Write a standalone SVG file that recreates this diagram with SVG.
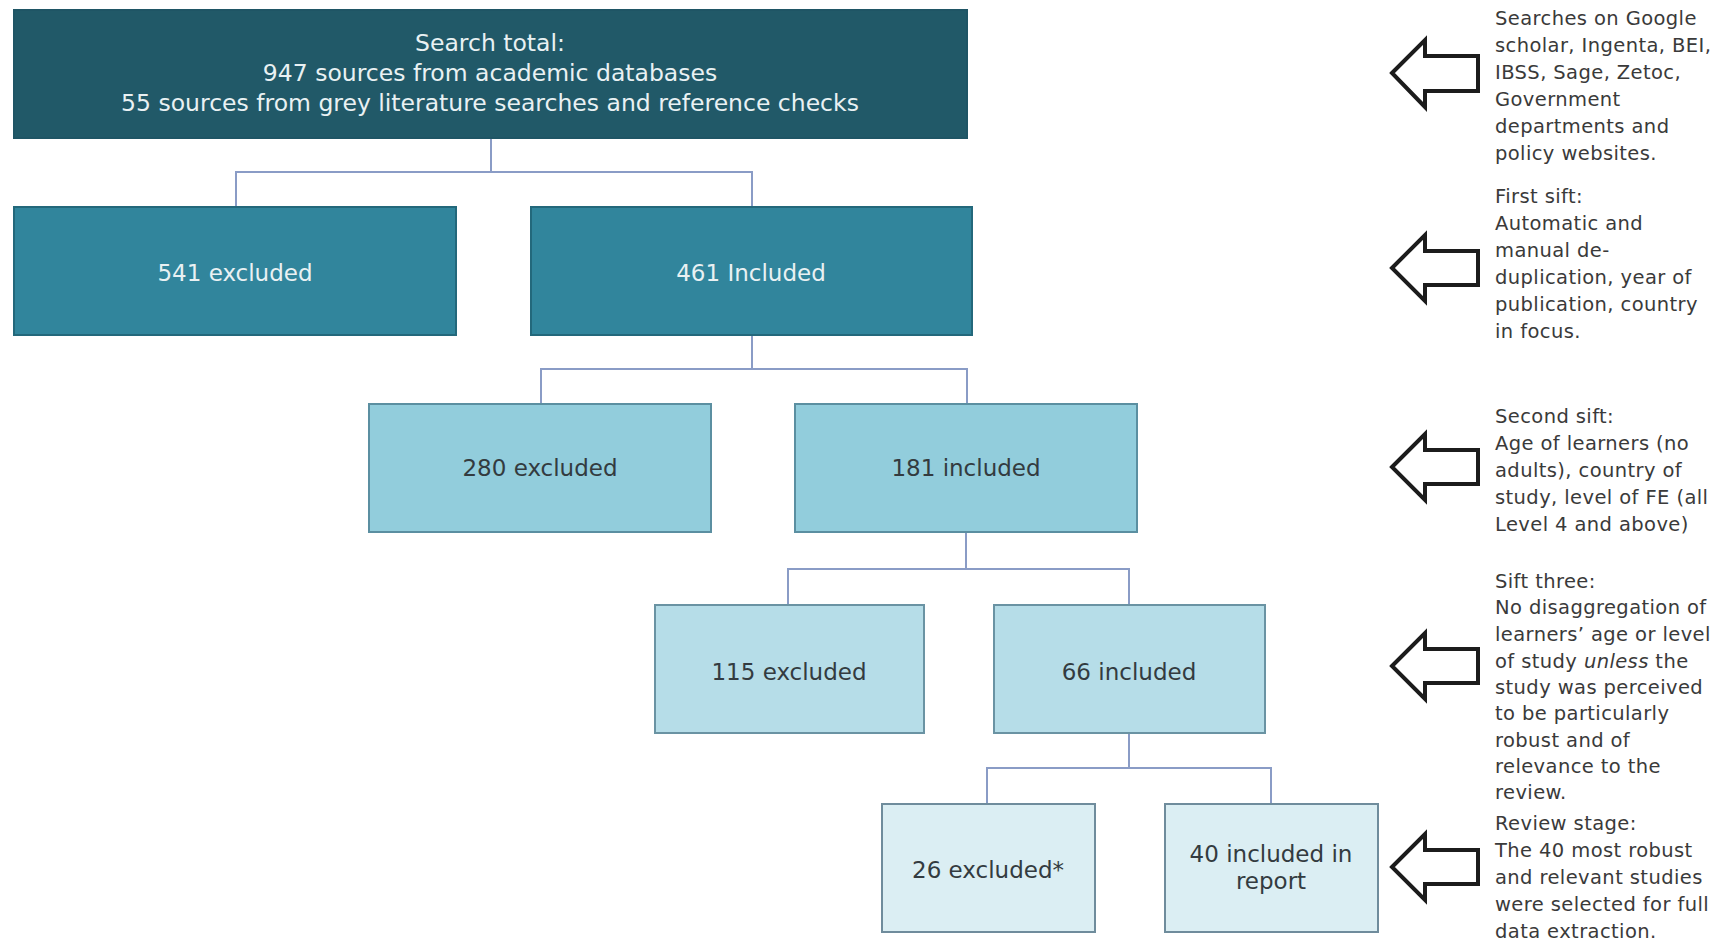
<svg xmlns="http://www.w3.org/2000/svg" width="1723" height="944" viewBox="0 0 1723 944">
<style>
.box{stroke-width:2}
.l0{fill:#215968;stroke:#1f5565}
.l1{fill:#31859c;stroke:#23687b}
.l2{fill:#92cddc;stroke:#5b8fa1}
.l3{fill:#b6dde8;stroke:#6a93a3}
.l4{fill:#dbeef3;stroke:#6f8c9c}
.t{font-family:"DejaVu Sans",Verdana,sans-serif;font-size:23px;text-anchor:middle}
.big{font-size:23.5px}
.tw{fill:#e9f1f3}
.td{fill:#333b40}
.conn{fill:none;stroke:#8a9cc6;stroke-width:2}
.arr{fill:#ffffff;stroke:#1c1c1c;stroke-width:4;stroke-linejoin:miter}
.note{font-family:"DejaVu Sans",Verdana,sans-serif;font-size:19.5px;fill:#3a3a3a;letter-spacing:0.4px}
</style>
<g id="connectors">
<path class="conn" d="M491 138V172M236 206V172H752V206"/>
<path class="conn" d="M752 335V369M541 404V369H967V404"/>
<path class="conn" d="M966 532V569M788 605V569H1129V605"/>
<path class="conn" d="M1129 733V768M987 804V768H1271V804"/>
</g>
<g id="search-total">
<rect class="box l0" x="14" y="10" width="953" height="128"/>
<text class="t big tw" x="490" y="51">Search total:</text>
<text class="t big tw" x="490" y="81">947 sources from academic databases</text>
<text class="t big tw" x="490" y="111">55 sources from grey literature searches and reference checks</text>
</g>
<g id="excluded-541">
<rect class="box l1" x="14" y="207" width="442" height="128"/>
<text class="t tw" x="235" y="281">541 excluded</text>
</g>
<g id="included-461">
<rect class="box l1" x="531" y="207" width="441" height="128"/>
<text class="t tw" x="751" y="281">461 Included</text>
</g>
<g id="excluded-280">
<rect class="box l2" x="369" y="404" width="342" height="128"/>
<text class="t td" x="540" y="476">280 excluded</text>
</g>
<g id="included-181">
<rect class="box l2" x="795" y="404" width="342" height="128"/>
<text class="t td" x="966" y="476">181 included</text>
</g>
<g id="excluded-115">
<rect class="box l3" x="655" y="605" width="269" height="128"/>
<text class="t td" x="789" y="680">115 excluded</text>
</g>
<g id="included-66">
<rect class="box l3" x="994" y="605" width="271" height="128"/>
<text class="t td" x="1129" y="680">66 included</text>
</g>
<g id="excluded-26">
<rect class="box l4" x="882" y="804" width="213" height="128"/>
<text class="t td" x="988" y="878">26 excluded*</text>
</g>
<g id="included-40">
<rect class="box l4" x="1165" y="804" width="213" height="128"/>
<text class="t td" x="1271" y="862">40 included in</text>
<text class="t td" x="1271" y="889">report</text>
</g>
<g id="note-search">
<path class="arr" d="M1392 73L1425 40V56H1478V91H1425V107Z"/>
<text class="note"><tspan x="1495" y="25">Searches on Google</tspan><tspan x="1495" y="52">scholar, Ingenta, BEI,</tspan><tspan x="1495" y="79">IBSS, Sage, Zetoc,</tspan><tspan x="1495" y="106">Government</tspan><tspan x="1495" y="133">departments and</tspan><tspan x="1495" y="160">policy websites.</tspan></text>
</g>
<g id="note-first-sift">
<path class="arr" d="M1392 268L1425 235V251H1478V285H1425V301Z"/>
<text class="note"><tspan x="1495" y="203">First sift:</tspan><tspan x="1495" y="230">Automatic and</tspan><tspan x="1495" y="257">manual  de-</tspan><tspan x="1495" y="284">duplication, year of</tspan><tspan x="1495" y="311">publication, country</tspan><tspan x="1495" y="338">in focus.</tspan></text>
</g>
<g id="note-second-sift">
<path class="arr" d="M1392 467L1425 434V450H1478V484H1425V500Z"/>
<text class="note"><tspan x="1495" y="423">Second sift:</tspan><tspan x="1495" y="450">Age of learners (no</tspan><tspan x="1495" y="477">adults), country of</tspan><tspan x="1495" y="504">study, level of FE (all</tspan><tspan x="1495" y="531">Level 4 and above)</tspan></text>
</g>
<g id="note-sift-three">
<path class="arr" d="M1392 666L1425 633V649H1478V683H1425V699Z"/>
<text class="note"><tspan x="1495" y="588">Sift three:</tspan><tspan x="1495" y="614">No disaggregation of</tspan><tspan x="1495" y="641">learners’ age or level</tspan><tspan x="1495" y="668">of study <tspan font-style="italic">unless</tspan> the</tspan><tspan x="1495" y="694">study was perceived</tspan><tspan x="1495" y="720">to be particularly</tspan><tspan x="1495" y="747">robust and of</tspan><tspan x="1495" y="773">relevance to the</tspan><tspan x="1495" y="799">review.</tspan></text>
</g>
<g id="note-review">
<path class="arr" d="M1392 867L1425 834V850H1478V884H1425V900Z"/>
<text class="note"><tspan x="1495" y="830">Review stage:</tspan><tspan x="1495" y="857">The 40 most robust</tspan><tspan x="1495" y="884">and relevant studies</tspan><tspan x="1495" y="911">were selected for full</tspan><tspan x="1495" y="938">data extraction.</tspan></text>
</g>
</svg>
